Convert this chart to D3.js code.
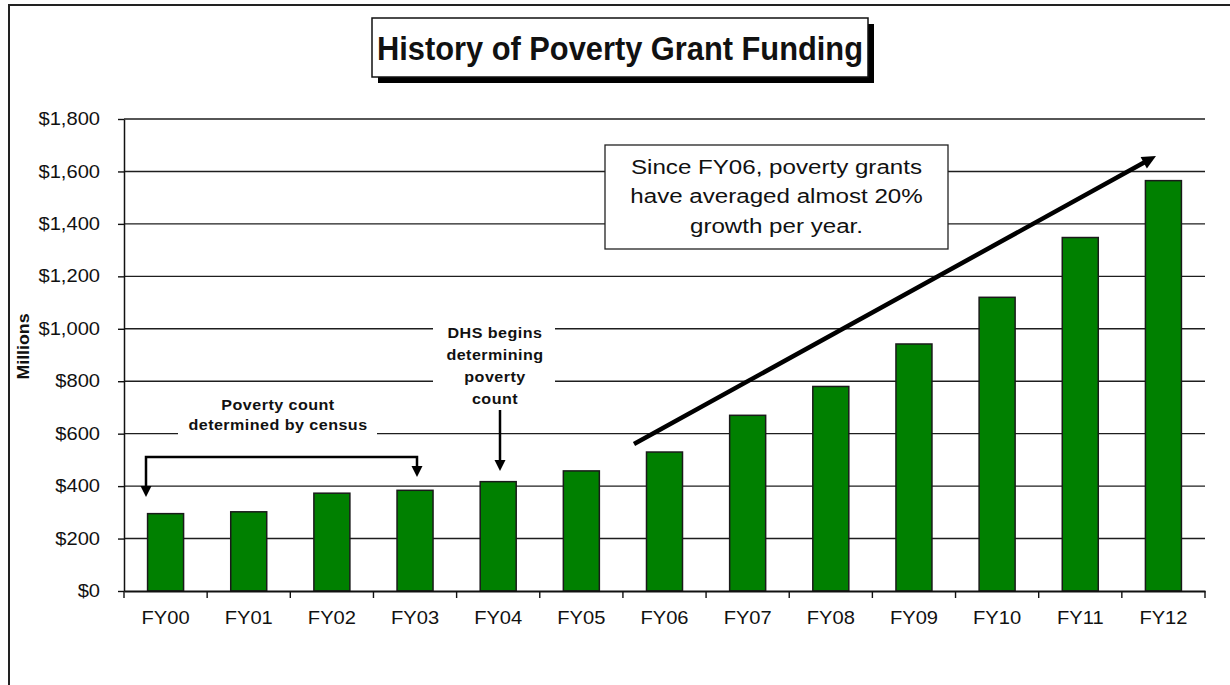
<!DOCTYPE html>
<html>
<head>
<meta charset="utf-8">
<script src="https://cdnjs.cloudflare.com/ajax/libs/d3/7.8.5/d3.min.js"></script>
<style>
  html, body { margin: 0; padding: 0; background: #fff; }
  svg { display: block; }
  text { font-family: "Liberation Sans", Arial, Helvetica, sans-serif; fill: #111; }
</style>
</head>
<body>
<svg id="chart" width="1230" height="685"></svg>
<script>
// ---- data ----
const categories = ["FY00","FY01","FY02","FY03","FY04","FY05","FY06","FY07","FY08","FY09","FY10","FY11","FY12"];
const values = [295, 302, 373, 384, 417, 458, 530, 670, 780, 942, 1120, 1348, 1565];
const yTickValues = [0, 200, 400, 600, 800, 1000, 1200, 1400, 1600, 1800];
const titleText = "History of Poverty Grant Funding";
const yAxisTitle = "Millions";
const censusNote = ["Poverty count", "determined by census"];
const dhsNote = ["DHS begins", "determining", "poverty", "count"];
const growthNote = ["Since FY06, poverty grants", "have averaged almost 20%", "growth per year."];

// ---- layout ----
const SX = 1.15; // horizontal text stretch seen in reference
const svg = d3.select("#chart");
const plot = { left: 124, right: 1205, top: 119, bottom: 591 };

const x = d3.scaleBand().domain(categories).range([plot.left, plot.right])
  .paddingInner(0.567).paddingOuter(0.2835);
const y = d3.scaleLinear().domain([0, 1800]).range([plot.bottom, plot.top]);

// outer frame
svg.append("path").attr("d", "M9,685 L9,5 L1232,5")
  .attr("fill", "none").attr("stroke", "#222").attr("stroke-width", 2);

// title box with shadow
svg.append("rect").attr("x", 378).attr("y", 24).attr("width", 496).attr("height", 59).attr("fill", "#000");
svg.append("rect").attr("x", 372).attr("y", 18).attr("width", 496).attr("height", 59)
  .attr("fill", "#fff").attr("stroke", "#111").attr("stroke-width", 1.5);
svg.append("text").attr("x", 620).attr("y", 60).attr("text-anchor", "middle")
  .attr("font-size", 34).attr("font-weight", "bold")
  .attr("textLength", 486).attr("lengthAdjust", "spacingAndGlyphs")
  .text(titleText);

// gridlines
svg.append("g").selectAll("line").data(yTickValues.filter(d => d > 0)).join("line")
  .attr("x1", plot.left).attr("x2", plot.right)
  .attr("y1", d => y(d)).attr("y2", d => y(d))
  .attr("stroke", "#1e1e1e").attr("stroke-width", 1.4);

// white backgrounds behind annotation texts (break gridlines)
svg.append("rect").attr("x", 178).attr("y", 394).attr("width", 199).attr("height", 46).attr("fill", "#fff");
svg.append("rect").attr("x", 433).attr("y", 318).attr("width", 122).attr("height", 94).attr("fill", "#fff");

// bars
svg.append("g").selectAll("rect").data(values).join("rect")
  .attr("x", (d, i) => x(categories[i]))
  .attr("width", x.bandwidth())
  .attr("y", d => y(d))
  .attr("height", d => y(0) - y(d))
  .attr("fill", "#008000").attr("stroke", "#1a1a1a").attr("stroke-width", 1.5);

// y axis
const yAxis = svg.append("g").attr("transform", `translate(${plot.left},0)`)
  .call(d3.axisLeft(y).tickValues(yTickValues).tickSize(6).tickSizeOuter(0).tickPadding(18)
    .tickFormat(d => "$" + d3.format(",")(d)));
yAxis.select(".domain").attr("stroke", "#111").attr("stroke-width", 1.5);
yAxis.selectAll(".tick line").attr("stroke", "#111").attr("stroke-width", 1.4);
yAxis.selectAll(".tick text")
  .attr("font-family", null).attr("font-size", 17.5).attr("fill", "#111")
  .attr("x", -24 / SX).attr("transform", `scale(${SX},1)`);

// x axis
const xAxis = svg.append("g").attr("transform", `translate(0,${plot.bottom})`)
  .call(d3.axisBottom(x).tickSize(0).tickPadding(21));
xAxis.select(".domain").attr("stroke", "#111").attr("stroke-width", 1.8);
xAxis.selectAll(".tick text")
  .attr("font-family", null).attr("font-size", 17.5).attr("fill", "#111")
  .attr("transform", `scale(${SX},1)`);
// boundary tick marks
xAxis.append("g").selectAll("line").data(d3.range(categories.length + 1)).join("line")
  .attr("x1", k => plot.left + k * x.step()).attr("x2", k => plot.left + k * x.step())
  .attr("y1", 0).attr("y2", 7).attr("stroke", "#111").attr("stroke-width", 1.4);

// y-axis title
svg.append("text").attr("transform", "translate(29,346.5) rotate(-90)")
  .attr("text-anchor", "middle").attr("font-size", 16).attr("font-weight", "bold")
  .attr("textLength", 66).attr("lengthAdjust", "spacingAndGlyphs")
  .text(yAxisTitle);

// helper for stretched text
function stext(str, cx, by, size, weight, spacing) {
  svg.append("text").attr("transform", `translate(${cx},${by}) scale(${SX},1)`)
    .attr("text-anchor", "middle").attr("font-size", size)
    .attr("letter-spacing", spacing || 0)
    .attr("font-weight", weight || "normal").text(str);
}
function arrowHead(tx, ty, angle, len, half) {
  const a = angle;
  const bx = tx - len * Math.cos(a), byy = ty - len * Math.sin(a);
  const px = -Math.sin(a) * half, py = Math.cos(a) * half;
  svg.append("path")
    .attr("d", `M${tx},${ty} L${bx + px},${byy + py} L${bx - px},${byy - py} Z`)
    .attr("fill", "#000");
}

// census annotation
censusNote.forEach((s, i) => stext(s, 278, 410 + i * 20, 14, "bold", 0.4));
svg.append("path").attr("d", "M146,487 L146,457 L417,457 L417,467")
  .attr("fill", "none").attr("stroke", "#000").attr("stroke-width", 2.5);
arrowHead(146, 497, Math.PI / 2, 11, 5.5);
arrowHead(417, 477, Math.PI / 2, 11, 5.5);

// DHS annotation
dhsNote.forEach((s, i) => stext(s, 495, 338 + i * 22, 14, "bold", 0.4));
svg.append("line").attr("x1", 500).attr("x2", 500).attr("y1", 410).attr("y2", 461)
  .attr("stroke", "#000").attr("stroke-width", 2.5);
arrowHead(500, 471, Math.PI / 2, 11, 5.5);

// growth arrow
const ax0 = 634, ay0 = 444, ax1 = 1156, ay1 = 156;
const ang = Math.atan2(ay1 - ay0, ax1 - ax0);
svg.append("line").attr("x1", ax0).attr("y1", ay0)
  .attr("x2", ax1 - 10 * Math.cos(ang)).attr("y2", ay1 - 10 * Math.sin(ang))
  .attr("stroke", "#000").attr("stroke-width", 4.5);
arrowHead(ax1, ay1, ang, 14, 6.5);

// growth text box
svg.append("rect").attr("x", 605).attr("y", 145).attr("width", 343).attr("height", 104)
  .attr("fill", "#fff").attr("stroke", "#222").attr("stroke-width", 1.3);
growthNote.forEach((s, i) => stext(s, 776.5, 173.5 + i * 29.5, 21, "normal"));
</script>
</body>
</html>
